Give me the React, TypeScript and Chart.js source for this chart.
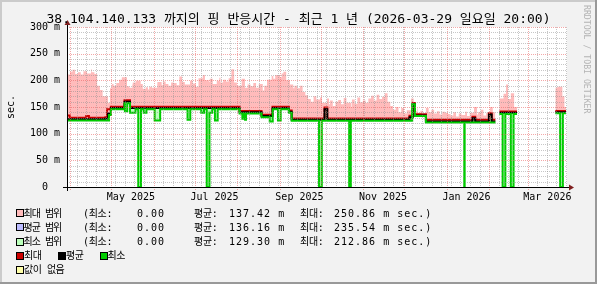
import React, { useEffect, useRef } from 'react';
import { Chart, registerables } from 'chart.js';

Chart.register(...registerables);

// ---------------- text ----------------
const TITLE = '38.104.140.133 까지의 핑 반응시간 - 최근 1 년 (2026-03-29 일요일 20:00)';
const Y_TITLE = 'sec.';
const WATERMARK = 'RRDTOOL / TOBI OETIKER';

// ---------------- time frame (days since 2025-03-29 20:00) ----------------
const START_UTC = Date.UTC(2025, 2, 29, 20, 0);
const SPAN_DAYS = 365;
const BIN_DAYS = 2;

// x-axis labels (every second month)
const xLabelText = ['May 2025', 'Jul 2025', 'Sep 2025', 'Nov 2025', 'Jan 2026', 'Mar 2026'];
const xLabelYear = [2025, 2025, 2025, 2025, 2026, 2026];
const xLabelMonth = [4, 6, 8, 10, 0, 2];

// y-axis ticks
const yTickValues = [0, 50, 100, 150, 200, 250, 300];
const yTickText = ['0  ', '50 m', '100 m', '150 m', '200 m', '250 m', '300 m'];

// ---------------- data (ms) ----------------
// top of the "max range" band, one value per 2-day bin
const maxRangeTop: (number | null)[] = [
  214, 211, 216, 220, 212, 215, 211, 217, 213, 221,
  215, 212, 190, 182, 170, 158, 185, 193, 190, 195,
  201, 206, 189, 186, 192, 196, 199, 193, 184, 187,
  183, 188, 186, 194, 197, 191, 198, 193, 190, 196,
  195, 191, 207, 197, 192, 199, 189, 194, 188, 204,
  210, 200, 197, 203, 193, 199, 205, 196, 201, 198,
  204, 221, 196, 190, 203, 186, 198, 192, 189, 195,
  186, 193, 181, 190, 201, 208, 203, 210, 206, 213,
  216, 200, 192, 185, 190, 185, 190, 178, 172, 165,
  160, 170, 164, 168, 158, 166, 155, 162, 152, 160,
  163, 155, 167, 158, 150, 164, 156, 168, 159, 162,
  158, 166, 171, 162, 173, 165, 169, 176, 160, 152,
  145, 150, 140, 148, 138, 144, 166, 142, 147, 139,
  143, 137, 148, 140, 145, 138, 142, 136, 141, 139,
  137, 134, 140, 132, 138, 135, 141, 133, 139, 150,
  136, 140, 145, 134, 139, 150, 140, 160, 214, 166,
  175, 192, 165, 176, 150, null, null, null, null, null,
  null, null, null, null, null, null, null, null, 168, 186,
  188, 170, 150,
];

// change points [day, value] : the value holds from that day on
const avgPoints: [number, number][] = [
  [0, 127], [29.2, 128], [30.7, 138], [32.1, 148], [42.3, 160], [47.7, 148],
  [127.5, 140], [142.9, 133], [150.2, 148], [162.8, 141], [165.2, 126],
  [189.8, 146], [191.3, 126], [251.1, 131], [253.1, 155], [255.5, 134], [264, 123],
  [297.1, 129], [299.3, 123], [308.8, 136], [310.8, 123], [315.6, 139], [356.5, 140],
];

const maxPoints: [number, number][] = [
  [0, 130], [0.7, 134], [2.2, 130], [14.6, 133], [17.5, 130], [29.2, 131], [29.9, 146],
  [32.1, 150.5], [42.3, 162.5], [47.7, 150.5], [127.5, 142.5], [142.9, 135.5],
  [150.2, 150.5], [162.8, 143.5], [165.2, 128.5], [189.8, 149], [191.3, 128.5],
  [251.1, 133.5], [253.1, 157.5], [255.5, 136.5], [264, 126], [297.1, 131.5],
  [299.3, 126], [308.8, 138.5], [310.8, 126], [315.6, 141.5], [356.5, 142.5],
];

const minPoints: [number, number][] = [
  [0, 124.5], [31.4, 135], [32.9, 146], [42.3, 157], [43.8, 142], [45.6, 157],
  [47.7, 139], [50.2, 146], [53.8, 0], [55.3, 146], [57.5, 139], [59.1, 146],
  [65.9, 124.5], [69.1, 146], [89.8, 126], [91.8, 146], [99.1, 139], [100.7, 146],
  [103.8, 0], [104.2, 139], [106.4, 146], [109.3, 124.5], [111.2, 146],
  [127.5, 138], [128.7, 128], [129.9, 138], [130.7, 126], [131.9, 138],
  [142.9, 131], [149.4, 123], [150.6, 146], [155.5, 124.5], [156.7, 146],
  [162.8, 139], [165.2, 124], [184.7, 0], [186.1, 124], [207.2, 0], [207.6, 124],
  [252.4, 155], [255.5, 133], [264, 121], [290.3, 0], [290.7, 121],
  [315.6, 137], [318.7, 0], [320.5, 137], [326, 0], [326.4, 137],
  [356.5, 138.5], [361.6, 0], [363.1, 138.5],
];

// periods without data [fromDay, toDay)
const gaps: [number, number][] = [[312.7, 315.6], [328.5, 356.5], [364.3, 366]];

// ---------------- legend ----------------
const rangeNames = ['최대 범위', '평균 범위', '최소 범위'];
const rangeColors = ['#FFBBBB', '#BBBBFF', '#BBFFBB'];
const rangeMin = ['0.00', '0.00', '0.00'];
const rangeAvg = ['137.42 m', '136.16 m', '129.30 m'];
const rangeMax = ['250.86 m', '235.54 m', '212.86 m'];
const lineNames = ['최대', '평균', '최소'];
const lineColors = ['#CC0000', '#000000', '#00CC00'];
const noDataName = '값이 없음';
const noDataColor = '#FFFFAA';

// ---------------- helpers ----------------
const W = 597;
const H = 284;
const dayOfUtc = (t: number) => (t - START_UTC) / 86400000;

function stepAt(points: [number, number][], d: number): number {
  let v = points[0][1];
  for (const p of points) {
    if (p[0] <= d + 1e-9) v = p[1];
    else break;
  }
  return v;
}
function binAt(d: number): number | null {
  const i = Math.floor(d / BIN_DAYS + 1e-9);
  const v = maxRangeTop[i];
  return v === undefined ? null : v;
}
function inGap(d: number) {
  return gaps.some(([a, b]) => d >= a - 1e-9 && d < b - 1e-9);
}

const allX: number[] = Array.from(
  new Set(
    [
      0,
      SPAN_DAYS,
      ...maxRangeTop.map((_, i) => i * BIN_DAYS),
      ...avgPoints.map((p) => p[0]),
      ...maxPoints.map((p) => p[0]),
      ...minPoints.map((p) => p[0]),
      ...gaps.flat(),
    ]
      .filter((d) => d >= 0 && d <= SPAN_DAYS)
      .map((d) => Math.round(d * 1000) / 1000)
  )
).sort((a, b) => a - b);

function build(f: (d: number) => number | null) {
  const out: { x: number; y: number | null }[] = [];
  let prev: number | null = null;
  for (const d of allX) {
    const v = d >= SPAN_DAYS || inGap(d) ? null : f(d);
    if (v === null && prev !== null) out.push({ x: d, y: prev });
    out.push({ x: d, y: v });
    prev = v;
  }
  return out;
}

const labelDays = xLabelText.map((_, i) => dayOfUtc(Date.UTC(xLabelYear[i], xLabelMonth[i], 1)) + 14.5);

const GRID = 'rgba(143,143,143,0.5)';
const MGRID = 'rgba(233,96,96,0.55)';

const rrdPlugin = {
  id: 'rrd',
  beforeDraw(chart: any) {
    const { ctx, chartArea: a } = chart;
    ctx.save();
    ctx.fillStyle = '#F2F2F2';
    ctx.fillRect(0, 0, W, H);
    ctx.fillStyle = '#CBCBCB';
    ctx.fillRect(0, 0, W, 2);
    ctx.fillRect(0, 0, 2, H);
    ctx.fillStyle = '#999999';
    ctx.fillRect(0, H - 2, W, 2);
    ctx.fillRect(W - 2, 0, 2, H);
    ctx.fillStyle = '#FFFFFF';
    ctx.fillRect(a.left, a.top, a.right - a.left, a.bottom - a.top);
    ctx.restore();
  },
  afterDatasetsDraw(chart: any) {
    const { ctx, chartArea: a } = chart;
    const xs = chart.scales.x;
    const ys = chart.scales.y;
    ctx.save();
    ctx.lineWidth = 1;
    ctx.setLineDash([1, 1]);
    // horizontal grid
    for (let v = 10; v <= 300; v += 10) {
      const py = Math.round(ys.getPixelForValue(v)) + 0.5;
      ctx.strokeStyle = v % 50 === 0 ? MGRID : GRID;
      ctx.beginPath();
      ctx.moveTo(a.left, py);
      ctx.lineTo(a.right, py);
      ctx.stroke();
    }
    // month starts
    const months: number[] = [];
    for (let m = 3; m <= 14; m++) months.push(dayOfUtc(Date.UTC(2025, m, 1)));
    // weekly (Sunday) minor grid
    const firstSunday = dayOfUtc(Date.UTC(2025, 2, 30));
    for (let d = firstSunday; d < SPAN_DAYS; d += 7) {
      if (months.some((m) => Math.abs(m - d) < 0.5)) continue;
      const px = Math.round(xs.getPixelForValue(d)) + 0.5;
      ctx.strokeStyle = GRID;
      ctx.beginPath();
      ctx.moveTo(px, a.top);
      ctx.lineTo(px, a.bottom);
      ctx.stroke();
    }
    for (const d of months) {
      if (d <= 0 || d >= SPAN_DAYS) continue;
      const px = Math.round(xs.getPixelForValue(d)) + 0.5;
      ctx.strokeStyle = MGRID;
      ctx.beginPath();
      ctx.moveTo(px, a.top);
      ctx.lineTo(px, a.bottom + 3);
      ctx.stroke();
    }
    // axes
    ctx.setLineDash([]);
    ctx.strokeStyle = '#000000';
    const ay = Math.round(a.bottom) + 0.5;
    const ax = Math.round(a.left) + 0.5;
    ctx.beginPath();
    ctx.moveTo(a.left - 4, ay);
    ctx.lineTo(a.right + 4, ay);
    ctx.moveTo(ax, a.bottom + 4);
    ctx.lineTo(ax, a.top - 4);
    ctx.stroke();
    ctx.fillStyle = '#7F1F1F';
    ctx.beginPath();
    ctx.moveTo(a.right + 2, ay - 3);
    ctx.lineTo(a.right + 2, ay + 3);
    ctx.lineTo(a.right + 7, ay);
    ctx.closePath();
    ctx.fill();
    ctx.beginPath();
    ctx.moveTo(ax - 3, a.top - 2);
    ctx.lineTo(ax + 3, a.top - 2);
    ctx.lineTo(ax, a.top - 7);
    ctx.closePath();
    ctx.fill();
    ctx.restore();
  },
};

const MONO = '"DejaVu Sans Mono", "Noto Sans CJK KR", monospace';

function Txt(props: { x: number; y: number; text: string; size?: number; ls?: number }) {
  const { x, y, text, size = 10, ls = 1 } = props;
  return (
    <div
      style={{
        position: 'absolute',
        left: x,
        top: y - 6.8,
        fontSize: size,
        lineHeight: '14px',
        letterSpacing: ls,
        whiteSpace: 'pre',
        color: '#000',
        fontFamily: MONO,
      }}
    >
      {text}
    </div>
  );
}

function Box(props: { x: number; y: number; color: string }) {
  return (
    <div
      style={{
        position: 'absolute',
        left: props.x,
        top: props.y - 4,
        width: 8,
        height: 8,
        boxSizing: 'border-box',
        border: '1px solid #000',
        background: props.color,
      }}
    />
  );
}

export default function App() {
  const ref = useRef<HTMLCanvasElement>(null);

  useEffect(() => {
    const canvas = ref.current;
    if (!canvas) return;
    const chart = new Chart(canvas, {
      type: 'line',
      data: {
        datasets: [
          {
            label: '최소',
            data: build((d) => stepAt(minPoints, d)),
            borderColor: lineColors[2],
            backgroundColor: rangeColors[2],
            borderWidth: 2,
            fill: 1,
            order: 0,
          },
          {
            label: '평균',
            data: build((d) => stepAt(avgPoints, d)),
            borderColor: lineColors[1],
            borderWidth: 2,
            fill: false,
            order: 1,
          },
          {
            label: '최대',
            data: build((d) => stepAt(maxPoints, d)),
            borderColor: lineColors[0],
            borderWidth: 2,
            fill: false,
            order: 2,
          },
          {
            label: '최대 범위',
            data: build(binAt),
            borderColor: 'rgba(0,0,0,0)',
            backgroundColor: rangeColors[0],
            borderWidth: 0,
            fill: 1,
            order: 3,
          },
        ] as any,
      },
      options: {
        responsive: false,
        animation: false,
        devicePixelRatio: 1,
        events: [],
        layout: { padding: { left: 0, right: 30, top: 27, bottom: 0 } },
        elements: {
          point: { radius: 0, hoverRadius: 0 },
          line: { stepped: 'after', tension: 0, borderCapStyle: 'butt', borderJoinStyle: 'miter' },
        },
        plugins: {
          legend: { display: false },
          title: { display: false },
          tooltip: { enabled: false },
          filler: { drawTime: 'beforeDatasetsDraw' },
        } as any,
        scales: {
          x: {
            type: 'linear',
            min: 0,
            max: SPAN_DAYS,
            grid: { display: false, drawTicks: false },
            border: { display: false },
            afterFit: (s: any) => {
              s.height = 97;
            },
            afterBuildTicks: (s: any) => {
              s.ticks = labelDays.map((v) => ({ value: v }));
            },
            ticks: {
              autoSkip: false,
              maxRotation: 0,
              minRotation: 0,
              padding: 4,
              color: '#000',
              font: { family: 'DejaVu Sans Mono', size: 10 },
              callback: (_v: any, i: number) => xLabelText[i],
            },
          },
          y: {
            type: 'linear',
            min: 0,
            max: 300,
            grid: { display: false, drawTicks: false },
            border: { display: false },
            afterFit: (s: any) => {
              s.width = 67;
            },
            afterBuildTicks: (s: any) => {
              s.ticks = yTickValues.map((v) => ({ value: v }));
            },
            ticks: {
              padding: 7,
              color: '#000',
              font: { family: 'DejaVu Sans Mono', size: 10 },
              callback: (_v: any, i: number) => yTickText[i],
            },
          },
        },
      } as any,
      plugins: [rrdPlugin],
    });
    return () => chart.destroy();
  }, []);

  const rowY = [213.3, 227.4, 241.5, 255.9, 270];

  return (
    <div
      style={{
        position: 'fixed',
        left: 0,
        top: 0,
        width: W,
        height: H,
        overflow: 'hidden',
        fontFamily: MONO,
      }}
    >
      <canvas ref={ref} width={W} height={H} style={{ position: 'absolute', left: 0, top: 0, width: W, height: H }} />
      <div
        style={{
          position: 'absolute',
          left: 0,
          top: 11,
          width: W,
          textAlign: 'center',
          fontSize: 13,
          lineHeight: '16px',
          whiteSpace: 'pre',
          color: '#000',
          fontFamily: MONO,
        }}
      >
        {TITLE}
      </div>
      <div
        style={{
          position: 'absolute',
          left: 5,
          top: 95,
          height: 24,
          width: 12,
          writingMode: 'vertical-rl',
          transform: 'rotate(180deg)',
          fontSize: 10,
          lineHeight: '12px',
          whiteSpace: 'pre',
          textAlign: 'center',
          fontFamily: MONO,
          color: '#000',
        }}
      >
        {Y_TITLE}
      </div>
      <div
        style={{
          position: 'absolute',
          left: 582,
          top: 5,
          writingMode: 'vertical-rl',
          fontSize: 8.2,
          lineHeight: '9px',
          whiteSpace: 'pre',
          fontFamily: MONO,
          color: '#B4B4B4',
        }}
      >
        {WATERMARK}
      </div>
      {rangeNames.map((name, i) => (
        <React.Fragment key={name}>
          <Box x={16} y={rowY[i]} color={rangeColors[i]} />
          <Txt x={23.5} y={rowY[i]} text={name} ls={-1} />
          <Txt x={83} y={rowY[i]} text={'(최소:'} ls={-0.3} />
          <Txt x={137} y={rowY[i]} text={rangeMin[i]} />
          <Txt x={194} y={rowY[i]} text={'평균:'} ls={-0.3} />
          <Txt x={229} y={rowY[i]} text={rangeAvg[i]} />
          <Txt x={300} y={rowY[i]} text={'최대:'} ls={-0.3} />
          <Txt x={334} y={rowY[i]} text={rangeMax[i] + ' sec.)'} />
        </React.Fragment>
      ))}
      <Box x={16} y={rowY[3]} color={lineColors[0]} />
      <Txt x={24} y={rowY[3]} text={lineNames[0]} ls={-0.5} />
      <Box x={57.5} y={rowY[3]} color={lineColors[1]} />
      <Txt x={66} y={rowY[3]} text={lineNames[1]} ls={-0.5} />
      <Box x={99.5} y={rowY[3]} color={lineColors[2]} />
      <Txt x={107.5} y={rowY[3]} text={lineNames[2]} ls={-0.5} />
      <Box x={16} y={rowY[4]} color={noDataColor} />
      <Txt x={24} y={rowY[4]} text={noDataName} ls={-0.5} />
    </div>
  );
}
